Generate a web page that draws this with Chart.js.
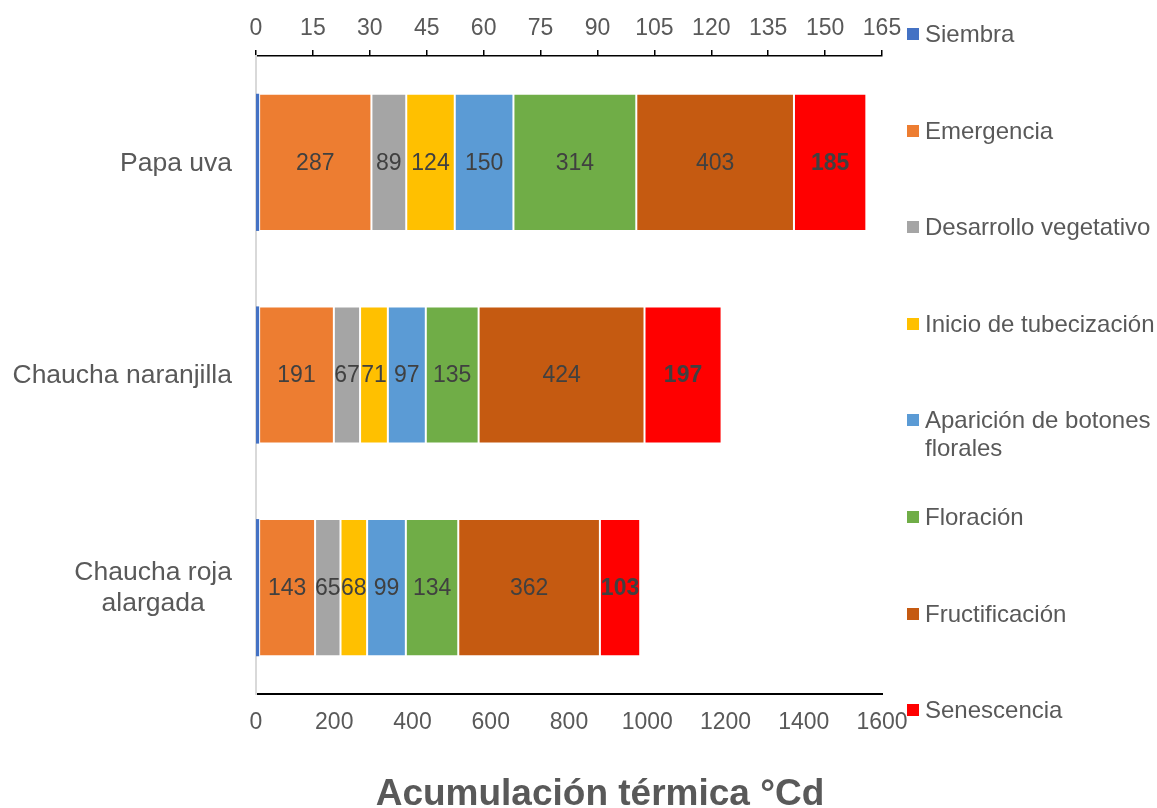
<!DOCTYPE html>
<html>
<head>
<meta charset="utf-8">
<script src="https://cdn.jsdelivr.net/npm/chart.js@4.4.1/dist/chart.umd.min.js"></script>
<style>
  html, body { margin: 0; padding: 0; background: #fff; }
  #wrap { position: relative; width: 1157px; height: 808px; overflow: hidden; }
  #chart { position: absolute; left: 0; top: 0; }
  .item { position: absolute; left: 907px; width: 248px; font: 24px 'Liberation Sans', Arial, sans-serif; color: #595959; line-height: 28px; }
  .item i { position: absolute; left: 0; top: 8px; width: 12px; height: 12px; }
  .item span { display: block; margin-left: 18px; }
  #title { position: absolute; left: 600px; top: 774px; font: bold 37px 'Liberation Sans', Arial, sans-serif; line-height: 37px; color: #595959; white-space: nowrap; transform: translateX(-50%); }
</style>
</head>
<body>
<div id="wrap">
  <canvas id="chart" width="1157" height="808"></canvas>
  <div id="legend"></div>
  <div id="title">Acumulación térmica °Cd</div>
</div>
<script>
// categories (multi-line labels as arrays)
const categories = [['Papa uva'], ['Chaucha naranjilla'], ['Chaucha roja', 'alargada']];

const seriesNames = [
  'Siembra', 'Emergencia', 'Desarrollo vegetativo', 'Inicio de tubecización',
  'Aparición de botones florales', 'Floración', 'Fructificación', 'Senescencia'
];
const seriesColors = ['#4472C4', '#ED7D31', '#A5A5A5', '#FFC000', '#5B9BD5', '#70AD47', '#C55A11', '#FF0000'];

// acumulación térmica (°Cd) por fase
const siembra = [8, 8, 8];
const emergencia = [287, 191, 143];
const desarrolloVegetativo = [89, 67, 65];
const inicioTubecizacion = [124, 71, 68];
const botonesFlorales = [150, 97, 99];
const floracion = [314, 135, 134];
const fructificacion = [403, 424, 362];
const senescencia = [185, 197, 103];

const seriesValues = [siembra, emergencia, desarrolloVegetativo, inicioTubecizacion,
  botonesFlorales, floracion, fructificacion, senescencia];

// axis ranges
const heatMax = 1600, heatStep = 200;
const daysMax = 165, daysStep = 15;

const FONT = "'Liberation Sans', Arial, sans-serif";
Chart.defaults.font.family = FONT;
Chart.defaults.color = '#595959';

const labelPlugin = {
  id: 'labelPlugin',
  afterDatasetsDraw(chart) {
    const ctx = chart.ctx;
    ctx.save();
    ctx.textAlign = 'center';
    ctx.textBaseline = 'middle';

    // values inside the bars
    ctx.fillStyle = '#404040';
    chart.data.datasets.forEach((ds, i) => {
      if (i === 0) return;
      const bold = i === chart.data.datasets.length - 1;
      ctx.font = (bold ? 'bold ' : '') + '23px ' + FONT;
      chart.getDatasetMeta(i).data.forEach((bar, j) => {
        const p = bar.getCenterPoint();
        ctx.fillText(String(ds.data[j]), p.x, p.y + 1);
      });
    });

    // category labels, right aligned block, lines centred
    const yScale = chart.scales.y;
    ctx.font = '26.5px ' + FONT;
    ctx.fillStyle = '#595959';
    categories.forEach((lines, j) => {
      const w = Math.max(...lines.map(l => ctx.measureText(l).width));
      const cx = yScale.right - 24 - w / 2;
      const cy = yScale.getPixelForValue(j);
      lines.forEach((l, k) => {
        ctx.fillText(l, cx, cy + 1 + (k - (lines.length - 1) / 2) * 31);
      });
    });
    ctx.restore();
  }
};

const ctx = document.getElementById('chart').getContext('2d');
new Chart(ctx, {
  type: 'bar',
  data: {
    labels: categories.map(c => c.join(' ')),
    datasets: seriesNames.map((name, i) => ({
      label: name,
      data: seriesValues[i],
      backgroundColor: seriesColors[i],
      borderColor: 'rgba(255,255,255,0.5)',
      borderWidth: i === 0 ? 0 : 1,
      borderSkipped: false,
      barPercentage: 0.645,
      categoryPercentage: 1,
      xAxisID: 'x',
      yAxisID: 'y'
    }))
  },
  options: {
    indexAxis: 'y',
    responsive: false,
    animation: false,
    devicePixelRatio: 1,
    layout: { padding: { left: 0, right: 275, top: 0, bottom: 0 } },
    plugins: {
      legend: { display: false },
      tooltip: { enabled: false }
    },
    scales: {
      x: {
        position: 'bottom',
        stacked: true,
        min: 0,
        max: heatMax,
        ticks: { stepSize: heatStep, font: { size: 23 }, color: '#595959', padding: 15, callback: v => String(v) },
        grid: { display: false, drawTicks: false },
        border: { display: true, color: '#000', width: 2 },
        afterFit: s => { s.height = 114; }
      },
      x2: {
        axis: 'x',
        type: 'linear',
        position: 'top',
        min: 0,
        max: daysMax,
        ticks: { stepSize: daysStep, font: { size: 23 }, color: '#595959', padding: 8, callback: v => String(v) },
        grid: { display: true, drawOnChartArea: false, drawTicks: true, tickLength: 6, color: '#000', lineWidth: 1.5 },
        border: { display: true, color: '#000', width: 1.5 },
        afterFit: s => { s.height = 56; }
      },
      y: {
        stacked: true,
        ticks: { display: false },
        grid: { display: false, drawTicks: false },
        border: { display: true, color: '#D9D9D9', width: 2 },
        afterFit: s => { s.width = 256; }
      }
    }
  },
  plugins: [labelPlugin]
});

// legend (Excel style, spread down the right side)
const legend = document.getElementById('legend');
seriesNames.forEach((name, i) => {
  const d = document.createElement('div');
  d.className = 'item';
  d.style.top = (34 + i * 96.6 - 14) + 'px';
  d.innerHTML = '<i style="background:' + seriesColors[i] + '"></i><span>' + name + '</span>';
  legend.appendChild(d);
});
</script>
</body>
</html>
